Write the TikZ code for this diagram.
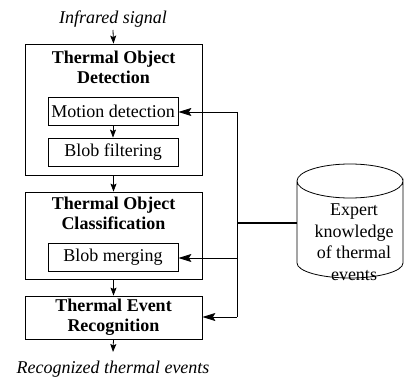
\documentclass[tikz,border=0pt]{standalone}
\usepackage{fontspec}
\setmainfont{Liberation Serif}
\usetikzlibrary{arrows.meta}
\begin{document}
\begin{tikzpicture}[x=1pt,y=-1pt,
  txt/.style={font=\fontsize{18}{20}\selectfont, inner sep=0pt, align=center},
  ttl/.style={font=\fontsize{18}{20}\selectfont\bfseries, inner sep=0pt, align=center},
  frame/.style={draw, line width=0.8pt, inner sep=0pt},
  arr/.style={line width=0.8pt, -{Stealth[length=8pt,width=6pt,inset=1.5pt]}},
  sarr/.style={line width=0.8pt, -{Stealth[length=13pt,width=8pt,inset=2.5pt]}},
  thin/.style={line width=0.8pt}]
\useasboundingbox (0,0) rectangle (404,382);
% input
\node[txt, font=\fontsize{18}{20}\selectfont\itshape] (in) at (113,19) {Infrared signal};
% box 1
\node[frame, minimum width=177pt, minimum height=131pt] (tod) at (113.5,109.5) {};
\node[ttl] (todt) at (113.5,67) {Thermal Object\\Detection};
\node[frame, minimum width=130pt, minimum height=28pt, txt] (md) at (113,111) {Motion detection};
\node[frame, minimum width=130pt, minimum height=28pt, txt] (bf) at (113,152) {Blob filtering};
% box 2
\node[frame, minimum width=177pt, minimum height=87pt] (toc) at (113.5,235.5) {};
\node[ttl] (toct) at (113.5,213) {Thermal Object\\Classification};
\node[frame, minimum width=130pt, minimum height=28pt, txt] (bm) at (113,257) {Blob merging};
% box 3
\node[frame, minimum width=177pt, minimum height=43pt] (ter) at (113.5,317.5) {};
\node[ttl] (tert) at (113.5,317.5) {Thermal Event\\Recognition};
% output
\node[txt, font=\fontsize{18}{20}\selectfont\itshape] (out) at (113,369) {Recognized thermal events};
% knowledge base cylinder
\node[txt, font=\fontsize{18}{21.5}\selectfont, minimum width=106pt] (kb) at (354,242) {Expert\\knowledge\\of thermal\\events};
\draw[thin] (297,181) -- (297,263) arc[start angle=180, end angle=360, x radius=53pt, y radius=15pt]
  -- (403,181) arc[start angle=0, end angle=-180, x radius=53pt, y radius=17pt]
  (297,181) arc[start angle=180, end angle=0, x radius=53pt, y radius=17pt];
\coordinate (kbw) at (297,223);
% main flow
\draw[arr] (113,30) -- (tod.north);
\draw[arr] (md) -- (bf);
\draw[arr] (tod) -- (toc);
\draw[arr] (toc) -- (ter);
\draw[arr] (ter.south) -- (113,352);
% feedback
\coordinate (j1) at (237,112);
\coordinate (j2) at (237,258);
\coordinate (j3) at (237,317);
\coordinate (jk) at (237,223);
\draw[thin] (j1) -- (j3);
\draw[sarr] (j1) -- (j1 -| md.east);
\draw[sarr] (j2) -- (j2 -| bm.east);
\draw[sarr] (j3) -- (j3 -| ter.east);
\draw[line width=2pt] (jk) -- (kbw);
\end{tikzpicture}
\end{document}
